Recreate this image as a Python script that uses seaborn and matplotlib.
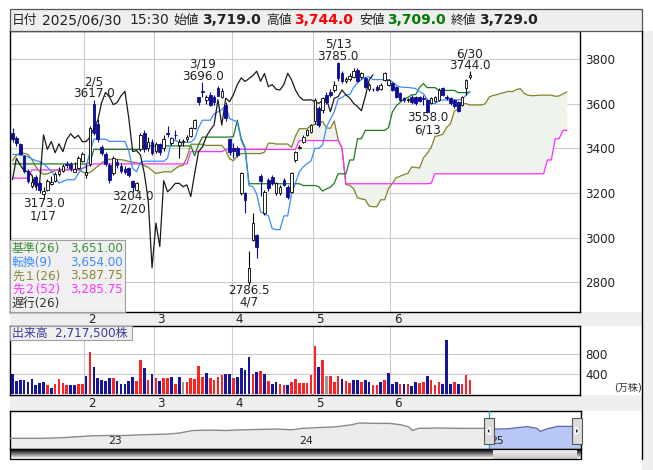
import numpy as np
import matplotlib
matplotlib.use("Agg")
import matplotlib.pyplot as plt
import matplotlib.transforms as mtransforms
from matplotlib.patches import Rectangle, Polygon
import seaborn as sns

# ---------------- data ----------------
dates = ["01/06","01/07","01/08","01/09","01/10","01/14","01/15","01/16","01/17","01/20",
         "01/21","01/22","01/23","01/24","01/27","01/28","01/29","01/30","01/31",
         "02/03","02/04","02/05","02/06","02/07","02/10","02/12","02/13","02/14","02/17",
         "02/18","02/19","02/20","02/21","02/25","02/26","02/27","02/28",
         "03/03","03/04","03/05","03/06","03/07","03/10","03/11","03/12","03/13","03/14",
         "03/17","03/18","03/19","03/21","03/24","03/25","03/26","03/27","03/28","03/31",
         "04/01","04/02","04/03","04/04","04/07","04/08","04/09","04/10","04/11","04/14",
         "04/15","04/16","04/17","04/18","04/21","04/22","04/23","04/24","04/25","04/28","04/30",
         "05/01","05/02","05/07","05/08","05/09","05/12","05/13","05/14","05/15","05/16",
         "05/19","05/20","05/21","05/22","05/23","05/26","05/27","05/28","05/29","05/30",
         "06/02","06/03","06/04","06/05","06/06","06/09","06/10","06/11","06/12","06/13",
         "06/16","06/17","06/18","06/19","06/20","06/23","06/24","06/25","06/26","06/27","06/30"]

opens = [3470,3445,3420,3365,3300,3230,3270,3245,3195,3215,3240,3255,3285,3300,3330,3330,3295,3310,3345,
         3280,3330,3600,3510,3405,3375,3325,3290,3340,3320,3305,3310,3255,3215,3395,3470,3400,3430,
         3390,3420,3400,3470,3425,3460,3415,3430,3440,3455,3490,3628,3655,3615,3640,3630,3670,3630,3595,3440,
         3400,3400,3200,3200,2800,2990,3010,3275,3110,3258,3273,3198,3200,3258,3228,3206,3348,3402,3430,3460,3475,
         3520,3579,3572,3639,3654,3660,3780,3736,3699,3710,3720,3750,3720,3713,3665,3665,3676,3665,3706,3685,
         3690,3676,3646,3624,3616,3631,3631,3628,3624,3616,3604,3613,3616,3669,3627,3624,3616,3609,3594,3669,3719]
highs = [3490,3455,3425,3370,3305,3265,3280,3250,3225,3262,3275,3295,3315,3330,3345,3340,3340,3365,3385,
         3330,3500,3617,3530,3415,3385,3335,3365,3350,3335,3320,3315,3260,3250,3470,3480,3450,3440,
         3430,3425,3460,3500,3450,3480,3440,3440,3460,3495,3530,3630,3696,3640,3650,3640,3680,3670,3605,3445,
         3425,3410,3295,3205,2940,3110,3015,3285,3215,3265,3280,3250,3235,3265,3235,3295,3390,3415,3458,3488,3510,
         3625,3590,3630,3650,3665,3700,3785,3745,3720,3735,3760,3760,3740,3720,3690,3672,3685,3690,3740,3712,
         3695,3680,3650,3630,3625,3640,3636,3635,3639,3620,3630,3636,3668,3675,3640,3630,3620,3612,3636,3712,3744]
lows = [3430,3410,3370,3290,3245,3220,3215,3200,3173,3210,3235,3250,3275,3295,3310,3300,3295,3305,3340,
        3265,3320,3460,3430,3370,3320,3245,3280,3310,3290,3285,3270,3204,3210,3390,3385,3390,3370,
        3380,3370,3390,3450,3415,3440,3355,3410,3430,3450,3485,3595,3630,3600,3590,3595,3635,3625,3520,3370,
        3355,3360,3190,3110,2786.5,2985,2910,3185,3100,3210,3235,3190,3190,3230,3175,3200,3340,3395,3425,3455,3470,
        3510,3495,3560,3600,3630,3650,3700,3690,3690,3700,3715,3695,3710,3670,3655,3655,3655,3660,3700,3680,
        3655,3625,3610,3605,3608,3600,3595,3605,3594,3558,3598,3608,3612,3632,3615,3595,3580,3564,3590,3640,3709]
closes = [3440,3425,3375,3300,3255,3250,3240,3212,3210,3255,3250,3285,3300,3320,3325,3310,3305,3355,3375,
          3295,3490,3470,3440,3380,3330,3260,3355,3325,3300,3295,3280,3225,3245,3460,3395,3430,3380,
          3420,3385,3440,3465,3445,3458,3430,3430,3450,3490,3525,3605,3650,3630,3595,3605,3635,3655,3535,3385,
          3390,3370,3288,3170,2865,3065,2960,3255,3205,3221,3243,3243,3228,3236,3184,3288,3385,3406,3452,3482,3504,
          3617,3504,3624,3609,3640,3685,3715,3699,3712,3725,3745,3700,3735,3676,3685,3664,3661,3685,3736,3706,
          3661,3631,3616,3616,3617,3609,3601,3613,3620,3564,3624,3631,3661,3639,3625,3601,3587,3568,3631,3706,3729]
# volume in 10,000 shares (万株)
volumes = [400,260,280,280,246,300,190,213,233,180, 127,200,300,213,187,187,187,195,195,366,
           847,546,326,280,260,326,313,260,207,207, 260,346,260,680,513,280,393,326,260,313,
           313,340,193,340,233,233,326,300,566,346, 426,313,280,346,380,393,393,326,346,526,
           486,740,393,433,460,393,260,200,233,193, 180,180,233,300,213,213,213,380,960,540,
           680,360,360,233,360,300,260,213,280,280, 233,280,233,187,187,233,273,420,207,233,
           207,193,200,167,247,213,233,353,273,187, 247,193,1087,193,233,193,207,387,271.75]
# r = up, b = down, g = unchanged (bar colours)
vol_dir = ("bbbbbbbbbr" "brrrrbbrrb" "rbbbbbrbbb" "bbrrbrbrbr" "rbrbgrrrrr"
           "brrrrbbrbb" "bbrbrbrbbr" "rbrrrrrrrb" "rgrrrbrrbb" "rbbrrbrbbb"
           "rbrbbrrbrr" "rbbbrbrrr")

tenkan = [3372,3372,3370,3368,3362,3352,3345,3340,3331.5,3314,
          3299,3271.5,3244,3251.5,3259,3259,3259,3287.5,3310,3317.5,
          3382.5,3441,3441,3441,3441,3431,3431,3431,3431,3431,
          3387.5,3309.5,3294.5,3337,3342,3342,3342,3342,3342,3342,
          3355,3435,3435,3427.5,3427.5,3427.5,3427.5,3442.5,3492.5,3525.5,
          3525.5,3525.5,3553,3563,3573,3590.5,3533,3525.5,3517.5,3435,
          3395,3233.25,3228.25,3195.75,3115.75,3105.75,3098.25,3040.75,3035.75,3035.75,
          3097.5,3097.5,3197.5,3245,3295,3316.5,3331.5,3342.5,3400,3400,
          3415,3495,3530,3562.5,3620,3627.5,3640,3640,3672.5,3692.5,
          3707.5,3717.5,3720,3707.5,3707.5,3707.5,3707.5,3707.5,3697.5,3682.5,
          3675,3672.5,3672.5,3670,3667.5,3653.5,3644.5,3619,3604,3599,
          3613,3616.5,3616.5,3616.5,3616.5,3616.5,3619.5,3638,3654]
kijun = ([3330]*20 + [3336.5] + [3395]*13 + [3410.5]*13 + [3367, 3417] + [3450]*8 +
         [3453, 3525.5, 3443, 3403] + [3241.25]*14 + [3233.25]*4 +
         [3228.25, 3208.25, 3218.25, 3225.75, 3243.25] + [3285.75]*3 + [3347.5]*2 + [3442.5]*2 +
         [3480]*6 + [3492.5, 3562.5, 3590, 3605, 3620, 3627.5, 3640, 3640, 3672.5, 3689.5] +
         [3671.5]*3 + [3659]*5 + [3649]*3 + [3651])
# leading spans, already placed 25 sessions ahead (index 0 = first session shown)
senkou_a = [3345,3370,3378,3378,3372,3350,3318,3295,3283,3285,3294,3300,3305,3305,3305,3305,3305,
            3305,3295,3288,3292,3305,3320,3335,3345,
            3351,3351,3350,3349,3346,3341,3337.5,3335,3330.75,3322,
            3314.5,3300.75,3287,3290.75,3294.5,3294.5,3294.5,3308.75,3320,3323.75,
            3359.5,3418,3418,3418,3418,3413,3413,3413,3413,3413,
            3391.25,3352.25,3344.75,3366,3376.25,3376.25,3376.25,3376.25,3376.25,3376.25,
            3382.75,3422.75,3422.75,3419,3419,3419,3419,3404.75,3454.75,3487.75,
            3487.75,3487.75,3501.5,3506.5,3511.5,3520.25,3491.5,3489.25,3521.5,3439,
            3399,3237.25,3234.75,3218.5,3178.5,3173.5,3169.75,3141,3138.5,3138.5,
            3169.4,3169.4,3219.4,3243.1,3268.1,3274.9,3282.4,3287.9,3316.6,3314.1,
            3311.6,3356.6,3377.9,3402.9,3452.9,3456.6,3462.9,3493.75,3510,3567.5,
            3575,3598.75,3600,3593.75,3593.75,3593.75,3593.75,3600,3630,3636.25,
            3640,3646.25,3650,3655,3653.75,3663,3667,3645.25,3637.75,3635.25,
            3636,3637.75,3637.75,3637.75,3637.75,3632.75,3634.25,3643.5,3652.5]
senkou_b = ([3266]*5 + [3303]*13 + [3310, 3318, 3325] + [3330]*25 + [3385]*9 + [3395]*19 +
            [3434.5]*11 + [3403] + [3241.25]*22 + [3243.25] + [3285.75]*29 +
            [3347.5]*2 + [3442.5]*2 + [3480]*2)
chikou_shift = 25

price_ticks = [2800, 3000, 3200, 3400, 3600, 3800]
vol_ticks = [400, 800]
month_names = {1: "1", 2: "2", 3: "3", 4: "4", 5: "5", 6: "6"}

peaks = [(21, "2/5", "3617.0", "high"), (8, "1/17", "3173.0", "low"), (31, "2/20", "3204.0", "low"),
         (49, "3/19", "3696.0", "high"), (61, "4/7", "2786.5", "low"), (84, "5/13", "3785.0", "high"),
         (107, "6/13", "3558.0", "low"), (118, "6/30", "3744.0", "high")]

legend_rows = [("基準(26)", "3,651.00", "#3f8f3f"), ("転換(9)", "3,654.00", "#3d8cff"),
               ("先１(26)", "3,587.75", "#8c8430"), ("先２(52)", "3,285.75", "#ff33ff"),
               ("遅行(26)", "", "#333333")]

nav_year = [2022.49,2022.66,2022.77,2022.83,2022.92,2023.01,2023.10,2023.18,2023.32,2023.38,
            2023.45,2023.54,2023.62,2023.71,2023.80,2023.89,2023.97,2024.02,2024.10,2024.19,
            2024.28,2024.32,2024.41,2024.48,2024.54,2024.58,2024.60,2024.63,2024.74,2024.85,
            2024.96,2025.00,2025.04,2025.10,2025.14,2025.20,2025.25,2025.27,2025.30,2025.36,
            2025.42,2025.48]
nav_price = [1742,1742,1858,1974,2148,2206,2206,2322,2439,2613,
             3019,3077,3019,3135,3193,3251,3135,3367,3484,3600,
             3948,4238,4180,4180,3948,3600,3019,3367,3426,3367,
             3367,3440,3250,3300,3450,3650,3380,2870,3250,3700,
             3680,3729]
nav_years_lbl = [2023, 2024, 2025]

# ---------------- figure ----------------
sns.set_theme(style="white")
plt.rcParams['font.family'] = ['DejaVu Sans', 'Noto Sans CJK JP']
W, H = 653, 470
fig = plt.figure(figsize=(W / 100, H / 100), dpi=100)
fig.patch.set_facecolor("white")

def axpx(x0, y0, x1, y1, **kw):
    return fig.add_axes([x0 / W, 1 - y1 / H, (x1 - x0) / W, (y1 - y0) / H], **kw)

def pixel_axes(z):
    a = fig.add_axes([0, 0, 1, 1], zorder=z)
    a.set_xlim(0, W); a.set_ylim(H, 0); a.axis("off"); a.patch.set_alpha(0)
    return a

GRAY = "#efefef"
FS = 8.6
n = len(closes)
x = np.arange(n)
months = [int(d.split("/")[0]) for d in dates]
bounds = [i - 0.5 for i in range(1, n) if months[i] != months[i - 1]]
bound_lbl = [month_names[months[i]] for i in range(1, n) if months[i] != months[i - 1]]
XL = (-0.645, 146.4)

bg = pixel_axes(-5)
bg.add_patch(Rectangle((580, 31), 62, 281, fc="white", ec="none"))
bg.add_patch(Rectangle((10, 312), 632, 14, fc=GRAY, ec="none"))
bg.add_patch(Rectangle((10, 395), 632, 16, fc=GRAY, ec="none"))
bg.add_patch(Rectangle((642, 31), 11, H - 31, fc=GRAY, ec="none"))

# ---------------- main price panel ----------------
ax = axpx(10, 31, 580, 312)
ax.set_xlim(*XL)
ax.set_ylim(2667, 3925)
for p in price_ticks:
    ax.axhline(p, color="#cccccc", lw=0.8, zorder=0)
for b in bounds:
    ax.axvline(b, color="#cccccc", lw=0.8, zorder=0)

xp = np.arange(len(senkou_a))
ax.fill_between(xp, senkou_a, senkou_b, color="#eef3ec", lw=0, zorder=1)
sns.lineplot(x=xp, y=senkou_a, ax=ax, color="#85802a", lw=0.9, estimator=None, legend=False, zorder=2)
sns.lineplot(x=xp, y=senkou_b, ax=ax, color="#ff30ff", lw=0.9, estimator=None, legend=False, zorder=2)
sns.lineplot(x=x, y=kijun, ax=ax, color="#1f7a1f", lw=0.9, estimator=None, legend=False, zorder=2)
sns.lineplot(x=x, y=tenkan, ax=ax, color="#3d8cff", lw=0.9, estimator=None, legend=False, zorder=2)
sns.lineplot(x=x[:n - chikou_shift], y=closes[chikou_shift:], ax=ax, color="#1a1a1a", lw=0.9,
             estimator=None, legend=False, zorder=2)

BLUE = "#0c0c94"
o = np.array(opens, float); c = np.array(closes, float)
hi = np.array(highs, float); lo = np.array(lows, float)
up = c >= o
ax.vlines(x[up], lo[up], hi[up], color="black", lw=0.8, zorder=3)
ax.vlines(x[~up], lo[~up], hi[~up], color=BLUE, lw=0.8, zorder=3)
body = np.maximum(np.abs(c - o), 3)
ax.bar(x[up], body[up], bottom=np.minimum(o, c)[up], width=0.68, color="white",
       edgecolor="black", linewidth=0.6, zorder=4)
ax.bar(x[~up], body[~up], bottom=np.minimum(o, c)[~up], width=0.68, color=BLUE,
       edgecolor=BLUE, linewidth=0.6, zorder=4)

for i, dlab, vlab, kind in peaks:
    if kind == "high":
        ax.annotate(dlab + "\n" + vlab, xy=(i, hi[i]), xytext=(0, -0.5), textcoords="offset points",
                    ha="center", va="bottom", fontsize=FS, linespacing=0.9, color="#222222", zorder=6)
    else:
        ax.annotate(vlab + "\n" + dlab, xy=(i, lo[i]), xytext=(0, 1.2), textcoords="offset points",
                    ha="center", va="top", fontsize=FS, linespacing=0.9, color="#222222", zorder=6)

ax.yaxis.tick_right()
ax.set_yticks(price_ticks)
ax.set_yticklabels([str(p) for p in price_ticks], fontsize=FS, color="#222222")
ax.tick_params(axis="y", length=0, pad=4)
ax.set_xticks([])
for s in ax.spines.values():
    s.set_color("black"); s.set_linewidth(1.0)
tr = mtransforms.blended_transform_factory(ax.transData, ax.transAxes)
for b, lab in zip(bounds, bound_lbl):
    ax.text(b + 0.9, -0.005, lab, transform=tr, ha="left", va="top", fontsize=FS, color="#222222",
            clip_on=False)

# ---------------- volume panel ----------------
vx = axpx(10, 326, 580, 395)
vx.set_xlim(*XL)
vx.set_ylim(-20, 1360)
for v in vol_ticks:
    vx.axhline(v, color="#cccccc", lw=0.8, zorder=0)
for b in bounds:
    vx.axvline(b, color="#cccccc", lw=0.8, zorder=0)
cmap = {"r": "#ff2222", "b": "#16169c", "g": "#9a9a9a"}
vx.bar(x, volumes, width=0.68, color=[cmap[d] for d in vol_dir], lw=0, zorder=2)
vx.yaxis.tick_right()
vx.set_yticks(vol_ticks)
vx.set_yticklabels([str(v) for v in vol_ticks], fontsize=FS, color="#222222")
vx.tick_params(axis="y", length=0, pad=4)
vx.set_xticks([])
for s in vx.spines.values():
    s.set_color("black"); s.set_linewidth(1.0)
vtr = mtransforms.blended_transform_factory(vx.transData, vx.transAxes)
for b, lab in zip(bounds, bound_lbl):
    vx.text(b + 0.9, -0.03, lab, transform=vtr, ha="left", va="top", fontsize=FS, color="#222222",
            clip_on=False)
vx.text(1.108, 0.04, "(万株)", transform=vx.transAxes, ha="right", va="bottom", fontsize=7.2,
        color="#333333")

# ---------------- navigator ----------------
nx = axpx(10, 411, 581, 449)
NXL = (2022.492, 2025.482)
nx.set_xlim(*NXL)
nx.set_ylim(0, 6200)
ny = np.array(nav_year); npr = np.array(nav_price)
sel = ny >= 2025.0
nx.fill_between(ny, npr, 0, color="#ececec", lw=0, zorder=1)
nx.fill_between(ny[sel], npr[sel], 0, color="#b9c7f4", lw=0, zorder=2)
sns.lineplot(x=ny[ny <= 2025.0], y=npr[ny <= 2025.0], ax=nx, color="#8a8a8a", lw=1.0,
             estimator=None, legend=False, zorder=3)
sns.lineplot(x=ny[sel], y=npr[sel], ax=nx, color="#6070b0", lw=1.0, estimator=None, legend=False, zorder=3)
nx.axvline(2025.0, color="#22aadd", lw=1.0, zorder=4)
nx.axvline(NXL[1] - 0.002, color="#22aadd", lw=1.0, zorder=4)
for yr in nav_years_lbl:
    nx.text(yr + 0.005, 0.08, str(yr)[2:], transform=mtransforms.blended_transform_factory(nx.transData, nx.transAxes),
            ha="left", va="bottom", fontsize=FS - 0.8, color="#222222", zorder=3)
nx.set_xticks([]); nx.set_yticks([])
for s in nx.spines.values():
    s.set_color("black"); s.set_linewidth(1.0)

# ---------------- overlay: header, legend, boxes ----------------
top = pixel_axes(10)
top.add_patch(Rectangle((10, 9), 632, 22, fc=GRAY, ec="#555555", lw=0.9))
hdr = [(12, "日付", "normal", "#222222", 9.2), (42, "2025/06/30", "normal", "#222222", 10),
       (129, "15:30", "normal", "#222222", 10), (173.5, "始値", "normal", "#222222", 9.2),
       (202, "3,719.0", "bold", "#222222", 10), (266.5, "高値", "normal", "#222222", 9.2),
       (294, "3,744.0", "bold", "#ff0000", 10), (359, "安値", "normal", "#222222", 9.2),
       (387, "3,709.0", "bold", "#007a00", 10), (450.5, "終値", "normal", "#222222", 9.2),
       (479, "3,729.0", "bold", "#222222", 10)]
for hx, t, w, col, fs in hdr:
    top.text(hx, 20.5, t, ha="left", va="center", fontsize=fs, fontweight=w, color=col)

top.plot([642, 642], [31, 459], color="black", lw=1.0)
top.add_patch(Rectangle((10, 240), 115, 72, fc="#f0f0f0", ec="#a0a0a0", lw=0.8))
for k, (lab, val, col) in enumerate(legend_rows):
    yy = 248.3 + k * 13.8
    top.text(12, yy, lab, ha="left", va="center", fontsize=FS, color=col)
    if val:
        top.text(123, yy, val, ha="right", va="center", fontsize=FS, color=col)

top.add_patch(Rectangle((10, 326), 122, 14, fc="#f0f0f0", ec="#a0a0a0", lw=0.8))
top.text(12, 333, "出来高  2,717,500株", ha="left", va="center", fontsize=FS, color="#3a3aa0")

# navigator handles and scrollbar
for hx, tri in [(488.5, "left"), (577, "right")]:
    top.add_patch(Rectangle((hx - 5, 418), 10, 26, fc="#dcdcdc", ec="#555555", lw=0.8))
    if tri == "left":
        top.add_patch(Polygon([(hx + 1.5, 427), (hx + 1.5, 435), (hx - 2, 431)], closed=True, fc="black"))
    else:
        top.add_patch(Polygon([(hx - 1.5, 427), (hx - 1.5, 435), (hx + 2, 431)], closed=True, fc="black"))
grad = np.linspace(0.25, 0.75, 12).reshape(-1, 1)
top.imshow(grad, extent=(10, 493, 459, 449), cmap="gray", aspect="auto", zorder=1)
top.imshow(np.linspace(0.97, 0.78, 12).reshape(-1, 1), extent=(493, 577, 459, 449), cmap="gray",
           vmin=0, vmax=1, aspect="auto", zorder=1)
top.imshow(grad, extent=(577, 581, 459, 449), cmap="gray", aspect="auto", zorder=1)
top.add_patch(Rectangle((10, 449), 571, 10, fc="none", ec="black", lw=0.9, zorder=2))
top.set_xlim(0, W); top.set_ylim(H, 0)

fig.savefig("out.png", dpi=100)
